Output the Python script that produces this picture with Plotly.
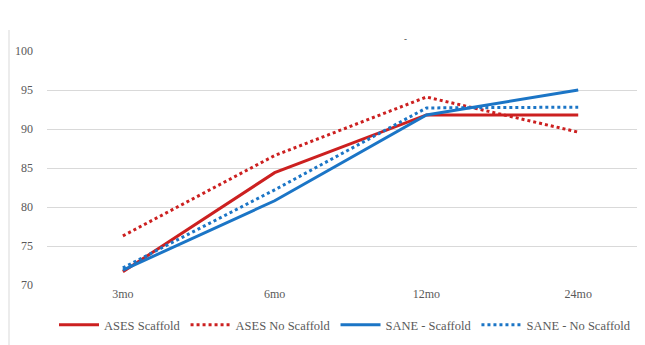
import plotly.graph_objects as go

categories = ["3mo", "6mo", "12mo", "24mo"]
ases_scaffold = [71.7, 84.4, 91.8, 91.8]
ases_no_scaffold = [76.3, 86.6, 94.1, 89.6]
sane_scaffold = [71.9, 80.8, 91.8, 95.0]
sane_no_scaffold = [72.2, 82.2, 92.7, 92.8]
y_ticks = [70, 75, 80, 85, 90, 95, 100]

RED = "#CC2020"
BLUE = "#1B75C6"
FONT = "Liberation Serif"

fig = go.Figure()
series = [
    ("ASES Scaffold", ases_scaffold, RED, "solid"),
    ("ASES No Scaffold", ases_no_scaffold, RED, "dot"),
    ("SANE - Scaffold", sane_scaffold, BLUE, "solid"),
    ("SANE - No Scaffold", sane_no_scaffold, BLUE, "dot"),
]
for name, vals, color, dash in series:
    fig.add_trace(go.Scatter(
        x=categories, y=vals, name=name, mode="lines",
        line=dict(color=color, width=3, dash=dash),
    ))

W, H = 637, 337
L, T, R, B = 39, 43, 0, 60
pw = W - L - R
ph = H - T - B

def px(x):
    return (x - 8 - L) / pw

def py(y):
    return (H - B - (y - 8)) / ph

fig.update_layout(
    width=W, height=H,
    margin=dict(l=L, r=R, t=T, b=B),
    paper_bgcolor="white", plot_bgcolor="white",
    font=dict(family=FONT, size=12, color="#595959"),
    showlegend=True,
    legend=dict(orientation="h", x=px(345), xanchor="center", y=py(325), yanchor="middle",
                font=dict(family=FONT, size=12.5, color="#595959"),
                itemwidth=40, tracegroupgap=0),
    xaxis=dict(type="category", range=[-0.5, 3.44], showgrid=False, showline=False,
               ticks="", zeroline=False, tickfont=dict(family=FONT, size=12, color="#595959")),
    yaxis=dict(range=[70, 100], tickvals=y_ticks, showgrid=True, gridcolor="#D9D9D9",
               gridwidth=1, zeroline=False, showline=False, ticks="",
               ticklabelstandoff=13, tickfont=dict(family=FONT, size=12, color="#595959")),
    shapes=[dict(type="line", xref="paper", yref="paper", x0=px(9), x1=px(9),
                 y0=py(30), y1=py(345), line=dict(color="#D9D9D9", width=1))],
    annotations=[dict(text="-", xref="paper", yref="paper", x=px(405),
                      y=py(32), showarrow=False,
                      font=dict(size=9, color="#333333", family=FONT))],
)

fig.write_html("out.html")
